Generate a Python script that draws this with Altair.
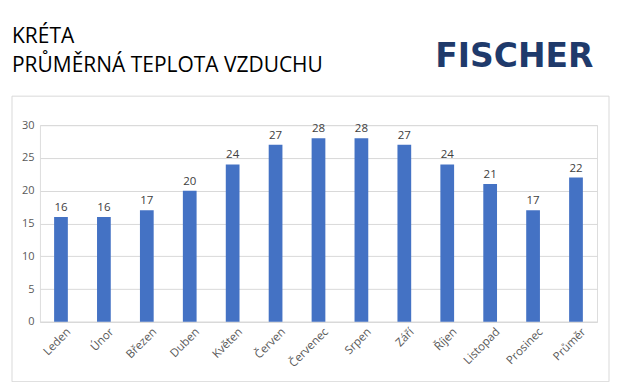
import altair as alt
import pandas as pd

months = ["Leden", "Únor", "Březen", "Duben", "Květen", "Červen", "Červenec",
          "Srpen", "Září", "Říjen", "Listopad", "Prosinec", "Průměr"]
temps = [16, 16, 17, 20, 24, 27, 28, 28, 27, 24, 21, 17, 22]
y_ticks = [0, 5, 10, 15, 20, 25, 30]
title_lines = ["KRÉTA", "PRŮMĚRNÁ TEPLOTA VZDUCHU"]
logo_text = "FISCHER"

df = pd.DataFrame({"month": months, "temp": temps})

W, H = 558, 197
FONT = "Open Sans"

x_enc = alt.X("month:N", sort=months, title=None,
              scale=alt.Scale(paddingInner=0.68, paddingOuter=0.33),
              axis=alt.Axis(labelAngle=-45, labelAlign="right", labelBaseline="top",
                            labelPadding=4, ticks=False, domainColor="#d9d9d9",
                            labelColor="#595959", labelFont=FONT, labelFontSize=11.5,
                            labelOffset=4, labelOverlap=False))
y_enc = alt.Y("temp:Q", title=None,
              scale=alt.Scale(domain=[0, 30], nice=False),
              axis=alt.Axis(values=y_ticks, tickCount=7, domain=False, ticks=False,
                            gridColor="#d9d9d9", labelColor="#595959",
                            labelFont=FONT, labelFontSize=11, labelPadding=6,
                            labelOverlap=False))

base = alt.Chart(df)

frame = alt.Chart(pd.DataFrame({"k": [0]})).mark_rect(
    fill="white", fillOpacity=0, stroke="#d9d9d9", strokeWidth=1
).encode(x=alt.value(-28), x2=alt.value(570), y=alt.value(-29), y2=alt.value(257))

bars = base.mark_bar(color="#4472c4").encode(x=x_enc, y=y_enc)
labels = base.mark_text(dy=-9, font=FONT, fontSize=11.5, color="#404040").encode(
    x=x_enc, y=y_enc, text="temp:Q")

title = alt.Chart(pd.DataFrame({"k": [0]})).mark_text(
    text=title_lines, align="left", baseline="alphabetic", font=FONT,
    fontSize=21, lineHeight=29, color="#000000"
).encode(x=alt.value(-28), y=alt.value(-82))

logo = alt.Chart(pd.DataFrame({"k": [0]})).mark_text(
    text=logo_text, align="left", baseline="alphabetic", font="DejaVu Sans",
    fontWeight="bold", fontSize=33, color="#1f3a6b"
).encode(x=alt.value(396), y=alt.value(-58))

chart = alt.layer(frame, bars, labels, title, logo).properties(
    width=W, height=H, autosize="none",
    padding={"left": 32, "top": 117, "right": 14, "bottom": 60}
).configure_view(stroke=None).configure(background="white")

chart.save("out.html", embed_options={"renderer": "svg", "actions": False})
